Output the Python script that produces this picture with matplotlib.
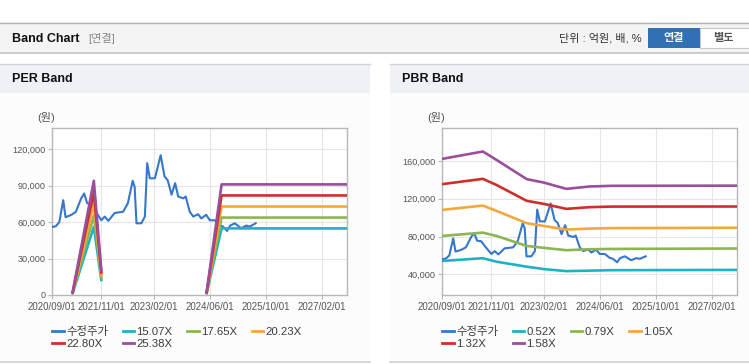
import numpy as np
import pandas as pd
import matplotlib
matplotlib.use('Agg')
import matplotlib.pyplot as plt
import matplotlib.dates as mdates
from matplotlib.patches import Rectangle
from matplotlib.lines import Line2D
from matplotlib.ticker import FuncFormatter

plt.rcParams['font.family'] = ['Liberation Sans', 'Noto Sans CJK KR']

# adjusted share price (same series in both charts)
price_dates = ['2020-09-01', '2020-10-01', '2020-11-01', '2020-12-05', '2020-12-25',
               '2021-02-15', '2021-03-25', '2021-05-10', '2021-06-05', '2021-07-01',
               '2021-08-05', '2021-09-05', '2021-11-01', '2021-12-01', '2022-01-01',
               '2022-02-25', '2022-05-10', '2022-06-20', '2022-08-01', '2022-08-18',
               '2022-09-03', '2022-10-15', '2022-11-15', '2022-12-05', '2022-12-28',
               '2023-02-10', '2023-04-01', '2023-05-05', '2023-06-01', '2023-07-05',
               '2023-08-05', '2023-09-01', '2023-10-15', '2023-11-05', '2023-12-10',
               '2024-01-10', '2024-02-20', '2024-03-20', '2024-05-01', '2024-06-01',
               '2024-07-15', '2024-08-25', '2024-09-25', '2024-10-30', '2024-11-25',
               '2025-01-05', '2025-02-10', '2025-03-01', '2025-04-15', '2025-05-15',
               '2025-07-05']
price_values = [56000, 56500, 60000, 78000, 64000,
                66000, 68500, 79500, 83500, 75500,
                75000, 70000, 61500, 64500, 61000,
                67500, 68500, 75500, 94000, 89000,
                59000, 59000, 64500, 108500, 96000,
                96000, 115000, 97500, 94500, 82500,
                92000, 81000, 79500, 81000, 68500,
                64500, 66500, 63000, 66000, 61500,
                61500, 57500, 56300, 52700, 57100,
                59000, 56300, 54900, 57100, 56300,
                59000]

# PER band (gap between the two segments)
per_dates = ['2021-02-25', '2021-08-28', '2021-11-01', '2023-01-01',
             '2024-05-05', '2024-09-12', '2027-09-10']
per_labels = ['15.07X', '17.65X', '20.23X', '22.80X', '25.38X']
per_1507 = [1500, 56000, 12300, np.nan, 1500, 54800, 54800]
per_1765 = [1700, 65500, 14400, np.nan, 1700, 63700, 63700]
per_2023 = [1900, 75000, 16500, np.nan, 1900, 72800, 72800]
per_2280 = [2100, 84500, 18600, np.nan, 2100, 81900, 81900]
per_2538 = [2400, 94000, 20700, np.nan, 2400, 91000, 91000]

# PBR band
pbr_dates = ['2020-09-01', '2021-08-20', '2021-12-15', '2022-09-05', '2023-01-30',
             '2023-08-15', '2024-03-05', '2024-09-12', '2027-09-10']
pbr_labels = ['0.52X', '0.79X', '1.05X', '1.32X', '1.58X']
pbr_052 = [54100, 57000, 53300, 48000, 45500, 43300, 43800, 44300, 44600]
pbr_079 = [80600, 84100, 80600, 70000, 68000, 65500, 66500, 66800, 67300]
pbr_105 = [108200, 112800, 107200, 94100, 91200, 87300, 88400, 88900, 89300]
pbr_132 = [135500, 141100, 134700, 117800, 114600, 109300, 111100, 111700, 111800]
pbr_158 = [162300, 170100, 161300, 140800, 137200, 130500, 133000, 133700, 133900]

x_ticks = ['2020-09-01', '2021-11-01', '2023-02-01', '2024-06-01', '2025-10-01', '2027-02-01']
x_range = ['2020-09-01', '2027-09-10']

price_color = '#3577cc'
band_colors = ['#1fb2c4', '#8db552', '#f3a83c', '#cf2f2b', '#994f9b']

W, H = 749, 364


def fx(px):
    return px / W


def fy(py):
    return 1 - py / H


def rect(x0, y0, x1, y1, color, edge='none', z=0):
    fig.add_artist(Rectangle((fx(x0), fy(y1)), (x1 - x0) / W, (y1 - y0) / H,
                             transform=fig.transFigure, facecolor=color,
                             edgecolor=edge, linewidth=0.8, zorder=z))


def hline(x0, x1, y, color, lw=0.8):
    fig.add_artist(Line2D([fx(x0), fx(x1)], [fy(y), fy(y)], transform=fig.transFigure,
                          color=color, linewidth=lw, zorder=1))


def draw_band_chart(ax, band_dates, bands, labels, yticks, ylim):
    ax.plot(pd.to_datetime(price_dates), price_values, color=price_color,
            linewidth=1.5, label='수정주가', zorder=3)
    for vals, label, color in zip(bands, labels, band_colors):
        ax.plot(pd.to_datetime(band_dates), vals, color=color, linewidth=1.9,
                label=label, zorder=3)

    ax.set_xlim(pd.to_datetime(x_range))
    ax.set_ylim(ylim)
    ax.set_xticks(pd.to_datetime(x_ticks))
    ax.xaxis.set_major_formatter(mdates.DateFormatter('%Y/%m/%d'))
    ax.set_yticks(yticks)
    ax.yaxis.set_major_formatter(FuncFormatter(lambda v, p: f'{v:,.0f}'))
    ax.grid(True, color='#e6e6e6', linewidth=0.8, zorder=0)
    ax.set_axisbelow(True)
    for sp in ax.spines.values():
        sp.set_color('#b8b8b8')
        sp.set_linewidth(1.0)
    ax.tick_params(axis='both', colors='#b8b8b8', labelcolor='#555555',
                   length=3, width=0.8, pad=2)
    ax.tick_params(axis='x', labelsize=7.0)
    ax.tick_params(axis='y', labelsize=6.6)

    # legend is filled column by column; reorder so it reads row by row
    handles, names = ax.get_legend_handles_labels()
    order = [0, 4, 1, 5, 2, 3]
    leg = ax.legend([handles[i] for i in order], [names[i] for i in order],
                    loc='upper left', bbox_to_anchor=(0, -0.185), ncol=4,
                    frameon=False, fontsize=8.2, handlelength=1.0,
                    handletextpad=0.2, columnspacing=1.3, labelspacing=0.15,
                    borderpad=0, borderaxespad=0)
    for t in leg.get_texts():
        t.set_color('#3c3c3c')
    for h in leg.get_lines():
        h.set_linewidth(2.0)


fig = plt.figure(figsize=(W / 100, H / 100), dpi=100)
fig.patch.set_facecolor('white')

# top bar
rect(0, 22.5, W, 53, '#f4f4f4')
hline(0, W, 22.5, '#b4b4b4', 1.0)
hline(0, W, 53, '#c4c4c4', 1.2)
fig.text(fx(12), fy(38.5), 'Band Chart', fontsize=9, fontweight='bold',
         color='#111111', va='center', ha='left')
fig.text(fx(88), fy(38.5), '[연결]', fontsize=8, color='#8a8a8a', va='center', ha='left')
fig.text(fx(642), fy(38.5), '단위 : 억원, 배, %', fontsize=8, color='#333333',
         va='center', ha='right')
rect(648, 28.5, 700, 47.5, '#3170b2', z=1)
rect(700, 28.5, 752, 47.5, '#ffffff', edge='#c8c8c8', z=1)
fig.text(fx(674), fy(38.5), '연결', fontsize=8, fontweight='bold', color='white',
         va='center', ha='center', zorder=2)
fig.text(fx(723), fy(38.5), '별도', fontsize=8, fontweight='bold', color='#555555',
         va='center', ha='center', zorder=2)

# panels
for x0, x1, title in [(0, 370, 'PER Band'), (390, 749, 'PBR Band')]:
    rect(x0, 64, x1, 362, '#fcfcfc')
    rect(x0, 64, x1, 93, '#eef1f6')
    hline(x0, x1, 64, '#d4d4d4', 1.0)
    hline(x0, x1, 362, '#d0d0d0', 1.2)
    fig.text(fx(x0 + 12), fy(79.5), title, fontsize=9, fontweight='bold',
             color='#111111', va='center', ha='left')
    fig.text(fx(x0 + 37), fy(118), '(원)', fontsize=8, color='#555555',
             va='center', ha='left')

ax1 = fig.add_axes([fx(52.3), fy(295), 295 / W, 167 / H])
ax2 = fig.add_axes([fx(442.3), fy(295), 295 / W, 167 / H])

draw_band_chart(ax1, per_dates, [per_1507, per_1765, per_2023, per_2280, per_2538],
                per_labels, [0, 30000, 60000, 90000, 120000], (0, 137400))
draw_band_chart(ax2, pbr_dates, [pbr_052, pbr_079, pbr_105, pbr_132, pbr_158],
                pbr_labels, [40000, 80000, 120000, 160000], (18000, 195000))

fig.savefig('out.png', dpi=100)
